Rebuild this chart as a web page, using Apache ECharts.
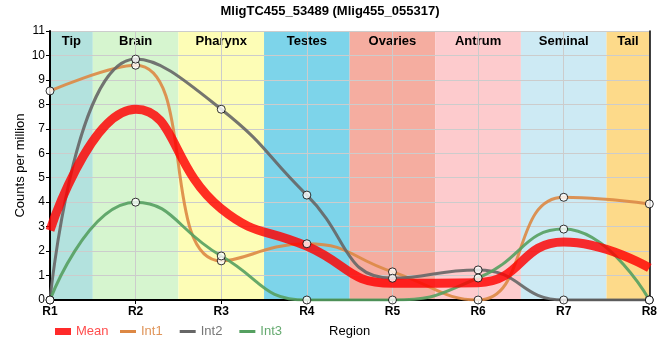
<!DOCTYPE html>
<html><head><meta charset="utf-8">
<script src="https://cdn.jsdelivr.net/npm/echarts@6/dist/echarts.min.js"></script>
<style>html,body{margin:0;padding:0;background:#fff}#c{width:660px;height:360px}</style>
</head><body><div id="c"></div>
<script>
const regions = ['R1','R2','R3','R4','R5','R6','R7','R8'];
const mean = [2.85, 7.8, 3.73, 2.2, 0.68, 0.71, 2.37, 1.31];
const int1 = [8.55, 9.6, 1.6, 2.3, 1.15, 0, 4.2, 3.93];
const int2 = [0, 9.85, 7.8, 4.29, 0.89, 1.23, 0, 0];
const int3 = [0, 4.0, 1.8, 0, 0, 0.9, 2.9, 0];
const bandNames = ['Tip','Brain','Pharynx','Testes','Ovaries','Antrum','Seminal','Tail'];
const bandStarts = [1, 1.5, 2.5, 3.5, 4.5, 5.5, 6.5, 7.5];
const bandEnds = [1.5, 2.5, 3.5, 4.5, 5.5, 6.5, 7.5, 8];
const bandColors = ['#b3e2de','#d6f5cf','#fdfdb6','#7dd4ea','#f5ada0','#fdcbcd','#cdeaf4','#fdda8a'];

const FONT = 'Liberation Sans, Arial, sans-serif';
const toXY = arr => arr.map((v, i) => [i + 1, v]);
const fmt = v => regions[Math.round(v) - 1] || '';

const chart = echarts.init(document.getElementById('c'), null, {renderer: 'canvas'});
const lineCommon = {type: 'line', smooth: 0.5, showSymbol: false, symbol: 'none'};
const pts = [int1, int2, int3].flatMap(a => toXY(a));

chart.setOption({
  animation: false,
  textStyle: {fontFamily: FONT},
  title: {text: 'MligTC455_53489 (Mlig455_055317)', left: 'center', top: 0,
    textStyle: {fontSize: 13, fontWeight: 'bold', color: '#000', fontFamily: FONT}},
  grid: {left: 50, right: 10, top: 31, bottom: 60},
  legend: [{
    left: 55, top: 325, padding: 0, itemWidth: 16, itemHeight: 7, icon: 'rect',
    textStyle: {fontSize: 13, fontFamily: FONT},
    data: [{name: 'Mean', textStyle: {color: '#ff4d4d'}}]
  }, {
    left: 120, top: 325, padding: 0, itemWidth: 16, itemHeight: 3, itemGap: 17, icon: 'rect',
    textStyle: {fontSize: 13, fontFamily: FONT},
    data: [
      {name: 'Int1', textStyle: {color: '#e0955a'}},
      {name: 'Int2', textStyle: {color: '#777777'}},
      {name: 'Int3', textStyle: {color: '#66aa70'}}
    ]
  }],
  xAxis: [{
    type: 'value', min: 1, max: 8, interval: 1, z: 2,
    name: 'Region', nameLocation: 'middle', nameGap: 25, nameMoveOverlap: false,
    nameTextStyle: {fontSize: 13, color: '#000', fontFamily: FONT},
    axisLine: {show: true, onZero: false, lineStyle: {color: '#000', width: 2}},
    axisTick: {show: true, length: 4, lineStyle: {color: '#000'}},
    axisLabel: {formatter: fmt, fontWeight: 'bold', fontSize: 12, color: '#000', margin: 6},
    splitLine: {show: true, lineStyle: {color: '#cccccc', width: 1}}
  }, {
    type: 'value', min: 1, max: 8, position: 'top', z: 2,
    axisLine: {show: true, lineStyle: {color: '#000', width: 1.5}},
    axisTick: {show: false}, axisLabel: {show: false}, splitLine: {show: false}
  }],
  yAxis: [{
    type: 'value', min: 0, max: 11, interval: 1, z: 2,
    name: 'Counts per million', nameLocation: 'middle', nameGap: 23, nameMoveOverlap: false,
    nameTextStyle: {fontSize: 13, color: '#000', fontFamily: FONT},
    axisLine: {show: true, onZero: false, lineStyle: {color: '#000', width: 2}},
    axisTick: {show: true, length: 4, lineStyle: {color: '#000'}},
    axisLabel: {fontSize: 12, color: '#000', margin: 5},
    splitLine: {show: true, lineStyle: {color: '#cccccc', width: 1}}
  }, {
    type: 'value', min: 0, max: 11, position: 'right', z: 2,
    axisLine: {show: true, lineStyle: {color: '#000', width: 1.5}},
    axisTick: {show: false}, axisLabel: {show: false}, splitLine: {show: false}
  }],
  series: [
    {type: 'line', name: 'bands', data: [], z: 1, silent: true,
      markArea: {silent: true,
        label: {show: true, position: 'insideTop', distance: 4, fontWeight: 'bold', fontSize: 13, color: '#000', fontFamily: FONT},
        data: bandNames.map((n, i) => [
          {name: n, xAxis: bandStarts[i], itemStyle: {color: bandColors[i], opacity: 1}},
          {xAxis: bandEnds[i]}
        ])}},
    Object.assign({}, lineCommon, {name: 'Int1', data: toXY(int1), z: 3, color: '#dd8844',
      lineStyle: {width: 3, color: '#dd8844', opacity: 0.9}}),
    Object.assign({}, lineCommon, {name: 'Int2', data: toXY(int2), z: 3, color: '#666666',
      lineStyle: {width: 3, color: '#666666', opacity: 0.9}}),
    Object.assign({}, lineCommon, {name: 'Int3', data: toXY(int3), z: 3, color: '#55a060',
      lineStyle: {width: 3, color: '#55a060', opacity: 0.9}}),
    Object.assign({}, lineCommon, {name: 'Mean', data: toXY(mean), z: 4, color: '#ff2a2a',
      lineStyle: {width: 9, color: '#ff0000', opacity: 0.82}}),
    {type: 'scatter', name: 'pts', data: pts, z: 5, symbol: 'circle', symbolSize: 8, silent: true,
      itemStyle: {color: '#fff', borderColor: '#000', borderWidth: 1}}
  ]
});
</script></body></html>
